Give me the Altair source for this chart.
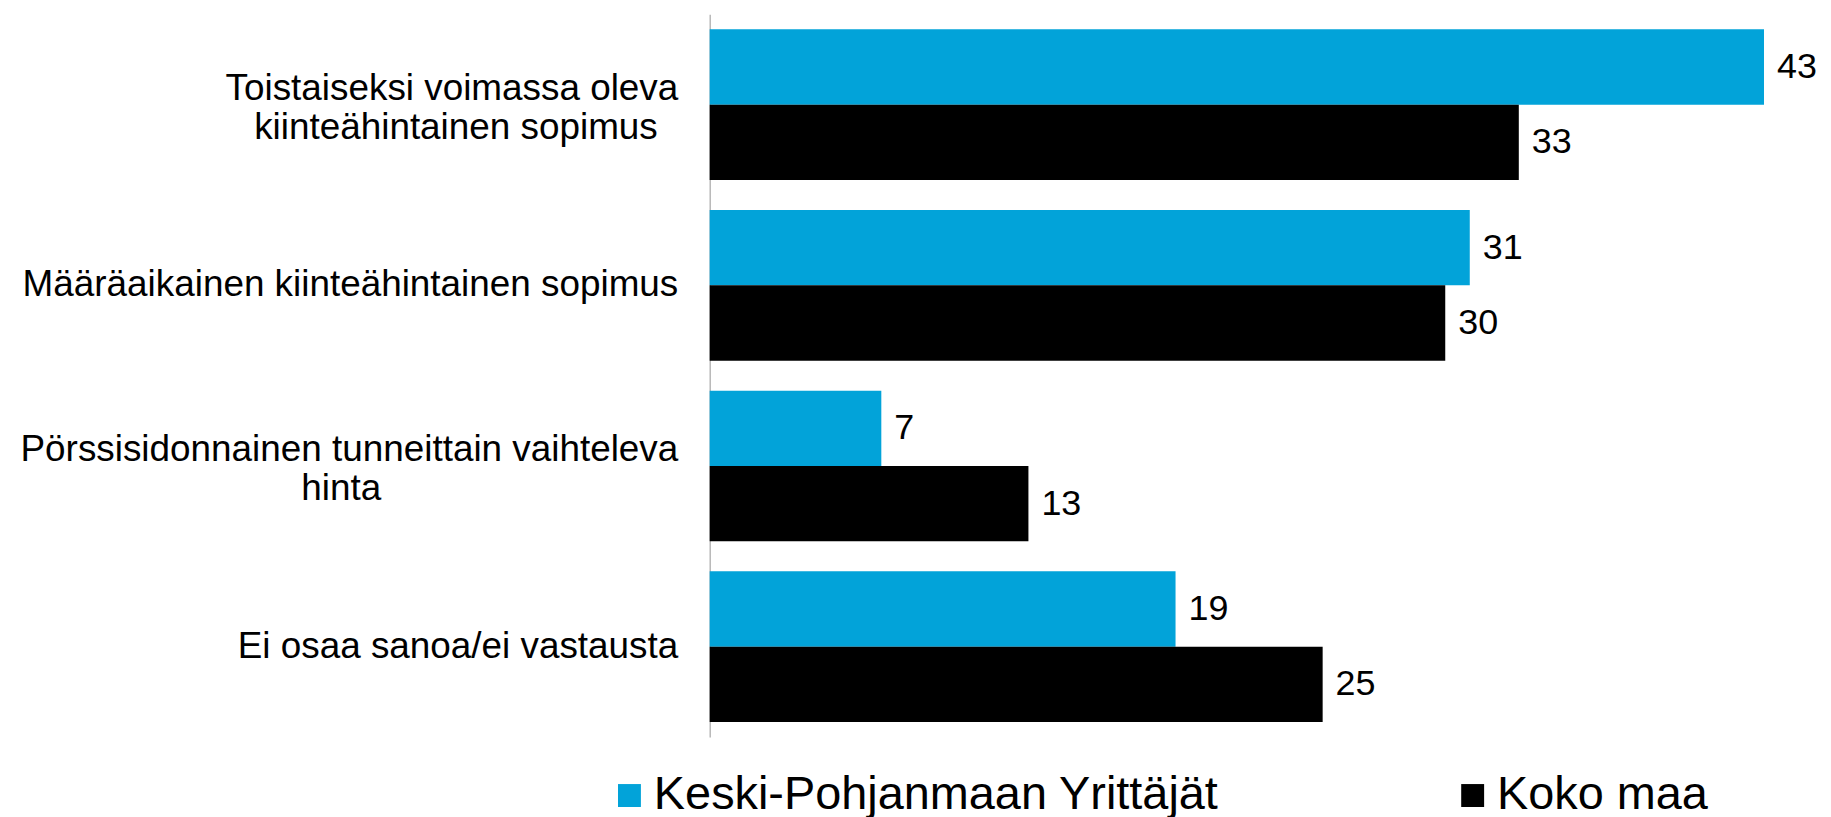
import altair as alt
import pandas as pd

NBSP = "\u00a0"
WJ = "\u2060"  # word joiner: keeps the no-break spaces from being trimmed

categories = [
    "Toistaiseksi voimassa oleva kiinteähintainen sopimus",
    "Määräaikainen kiinteähintainen sopimus",
    "Pörssisidonnainen tunneittain vaihteleva hinta",
    "Ei osaa sanoa/ei vastausta",
]
# Displayed (wrapped) label lines; trailing no-break spaces keep the short
# lines visually centred under the long ones, as in the original.
category_lines = [
    ["Toistaiseksi voimassa oleva", "kiinteähintainen sopimus" + NBSP * 2 + WJ],
    ["Määräaikainen kiinteähintainen sopimus"],
    ["Pörssisidonnainen tunneittain vaihteleva", "hinta" + NBSP * 29 + WJ],
    ["Ei osaa sanoa/ei vastausta"],
]
series = ["Keski-Pohjanmaan Yrittäjät", "Koko maa"]
values_kp = [43, 31, 7, 19]
values_koko = [33, 30, 13, 25]
colors = ["#02A3D9", "#000000"]

rows = []
for c, a, b in zip(categories, values_kp, values_koko):
    rows.append({"cat": c, "series": series[0], "value": a})
    rows.append({"cat": c, "series": series[1], "value": b})
df = pd.DataFrame(rows)


def js_str(s):
    return "'" + s.replace("\\", "\\\\").replace("'", "\\'") + "'"


lines_js = "[" + ",".join("[" + ",".join(js_str(l) for l in ls) + "]" for ls in category_lines) + "]"
cats_js = "[" + ",".join(js_str(c) for c in categories) + "]"
label_expr = f"{lines_js}[indexof({cats_js}, datum.label)]"
multiline_test = f"length({lines_js}[indexof({cats_js}, datum.value)]) > 1"

FONT = "Liberation Sans"

y_enc = alt.Y(
    "cat:N",
    sort=categories,
    scale=alt.Scale(paddingInner=0.166, paddingOuter=0.083),
    axis=alt.Axis(
        title=None,
        labelExpr=label_expr,
        labelFont=FONT,
        labelFontSize=37,
        labelColor="#000000",
        labelLineHeight=39,
        labelPadding=32,
        labelLimit=1200,
        labelOffset={"condition": {"test": multiline_test, "value": -16}, "value": 0},
        ticks=False,
        tickSize=0,
        domain=True,
        domainColor="#A6A6A6",
        domainWidth=1.2,
        grid=False,
    ),
)
yoff = alt.YOffset("series:N", sort=series, scale=alt.Scale(paddingInner=0, paddingOuter=0))
x_enc = alt.X("value:Q", scale=alt.Scale(domain=[0, 45], nice=False), axis=None)

bars = alt.Chart(df).mark_bar(strokeWidth=0).encode(
    y=y_enc,
    yOffset=yoff,
    x=x_enc,
    color=alt.Color(
        "series:N",
        sort=series,
        scale=alt.Scale(domain=series, range=colors),
        legend=alt.Legend(
            title=None,
            orient="none",
            legendX=-104,
            legendY=760,
            direction="horizontal",
            symbolType="square",
            symbolSize=529,
            symbolStrokeWidth=0,
            labelFont=FONT,
            labelFontSize=47,
            labelColor="#000000",
            labelLimit=1200,
            labelOffset=1,
            columnPadding=231,
            padding=0,
        ),
    ),
)

labels = alt.Chart(df).mark_text(
    align="left", baseline="middle", dx=13, font=FONT, fontSize=36, color="#000000"
).encode(
    y=alt.Y("cat:N", sort=categories),
    yOffset=yoff,
    x=x_enc,
    text=alt.Text("value:Q"),
)

chart = (
    alt.layer(bars, labels)
    .properties(
        width=1107,
        height=725,
        autosize=alt.AutoSizeParams(type="none"),
        padding={"left": 704, "top": 5, "right": 10, "bottom": 100},
    )
    .configure(background="#FFFFFF")
    .configure_view(strokeWidth=0, stroke="transparent")
)

chart.save("out.html", embed_options={"renderer": "svg", "actions": False})
